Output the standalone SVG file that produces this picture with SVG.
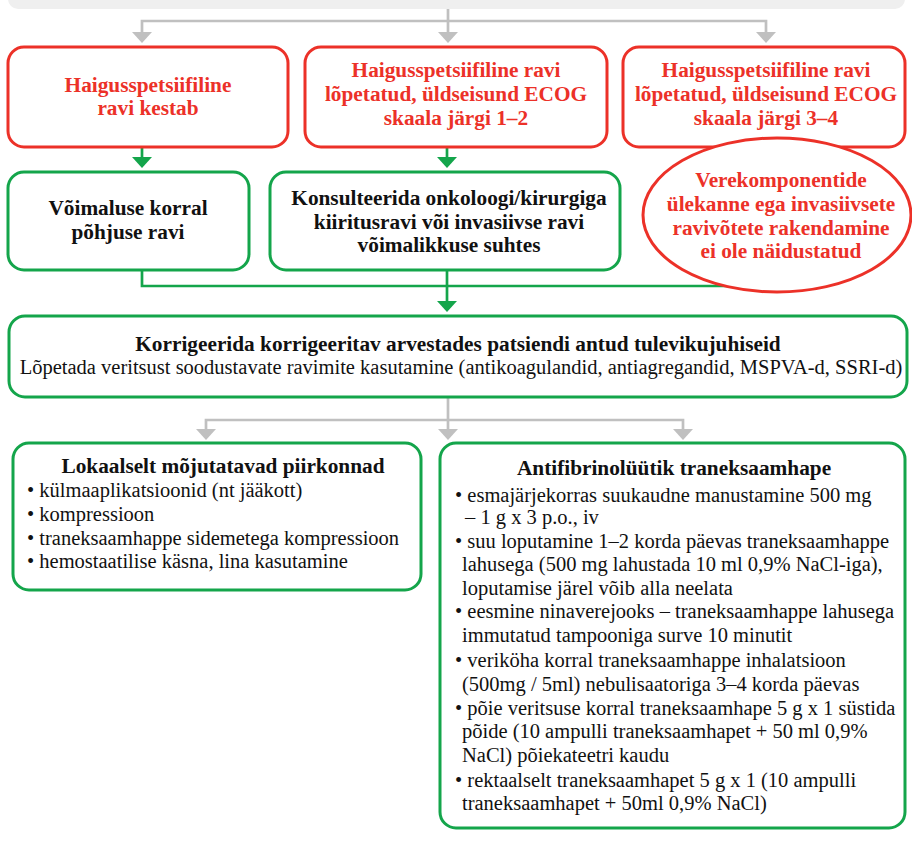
<svg xmlns="http://www.w3.org/2000/svg" width="912" height="847" viewBox="0 0 912 847">
<style>
  .red { fill: #ffffff; stroke: #ec3128; stroke-width: 3; }
  .grn { fill: #ffffff; stroke: #14a54b; stroke-width: 3; }
  .gline { fill: none; stroke: #c0c0c0; stroke-width: 2.7; }
  .nline { fill: none; stroke: #14a54b; stroke-width: 2.7; }
  .rt { font-family: "Liberation Serif", "Times New Roman", serif; font-weight: bold; font-size: 21.3px; fill: #ec3128; text-anchor: middle; }
  .bt { font-family: "Liberation Serif", "Times New Roman", serif; font-weight: bold; font-size: 21.3px; fill: #111111; text-anchor: middle; }
  .nt { font-family: "Liberation Serif", "Times New Roman", serif; font-size: 20.5px; fill: #111111; }
</style>
<defs>
  <marker id="ag" markerUnits="userSpaceOnUse" markerWidth="12" markerHeight="22" viewBox="0 -11 12 22" refX="0" refY="0" orient="auto">
    <path d="M0,-10 L11,0 L0,10 Z" fill="#c0c0c0"/>
  </marker>
  <marker id="an" markerUnits="userSpaceOnUse" markerWidth="12" markerHeight="22" viewBox="0 -11 12 22" refX="0" refY="0" orient="auto">
    <path d="M0,-10 L11,0 L0,10 Z" fill="#14a54b"/>
  </marker>
</defs>

<g id="top-box">
  <rect x="8" y="-30" width="897" height="39" rx="10" fill="#efefef"/>
</g>

<g id="connectors">
  <path class="gline" d="M448,9 V32" marker-end="url(#ag)"/>
  <path class="gline" d="M448,21 H142 V32" marker-end="url(#ag)"/>
  <path class="gline" d="M448,21 H766 V32" marker-end="url(#ag)"/>
  <path class="nline" d="M142,147 V157" marker-end="url(#an)"/>
  <path class="nline" d="M447,147 V157" marker-end="url(#an)"/>
  <path class="nline" d="M142,270 V286 H766"/>
  <path class="nline" d="M447,270 V301" marker-end="url(#an)"/>
  <path class="gline" d="M448,397 V429" marker-end="url(#ag)"/>
  <path class="gline" d="M448,420 H206 V429" marker-end="url(#ag)"/>
  <path class="gline" d="M448,420 H683 V429" marker-end="url(#ag)"/>
</g>

<g id="red1">
  <rect class="red" x="8" y="47" width="280" height="100" rx="16"/>
  <text class="rt" x="148" y="92">Haigusspetsiifiline</text>
  <text class="rt" x="148" y="115">ravi kestab</text>
</g>
<g id="red2">
  <rect class="red" x="305" y="47" width="302" height="100" rx="16"/>
  <text class="rt" x="456" y="77">Haigusspetsiifiline ravi</text>
  <text class="rt" x="456" y="101">lõpetatud, üldseisund ECOG</text>
  <text class="rt" x="456" y="125">skaala järgi 1–2</text>
</g>
<g id="red3">
  <rect class="red" x="623" y="47" width="282" height="100" rx="16"/>
  <text class="rt" x="766" y="77">Haigusspetsiifiline ravi</text>
  <text class="rt" x="766" y="101">lõpetatud, üldseisund ECOG</text>
  <text class="rt" x="766" y="125">skaala järgi 3–4</text>
</g>

<g id="green1">
  <rect class="grn" x="8" y="172" width="241" height="98" rx="16"/>
  <text class="bt" x="128" y="215">Võimaluse korral</text>
  <text class="bt" x="128" y="239">põhjuse ravi</text>
</g>
<g id="green2">
  <rect class="grn" x="270" y="172" width="350" height="98" rx="16"/>
  <text class="bt" x="449" y="205">Konsulteerida onkoloogi/kirurgiga</text>
  <text class="bt" x="449" y="229">kiiritusravi või invasiivse ravi</text>
  <text class="bt" x="449" y="252">võimalikkuse suhtes</text>
</g>
<g id="ellipse">
  <ellipse cx="777" cy="215" rx="134" ry="77" fill="#ffffff" stroke="#ec3128" stroke-width="3"/>
  <text class="rt" x="781" y="187">Verekomponentide</text>
  <text class="rt" x="781" y="211">ülekanne ega invasiivsete</text>
  <text class="rt" x="781" y="235">ravivõtete rakendamine</text>
  <text class="rt" x="781" y="258">ei ole näidustatud</text>
</g>

<g id="correct">
  <rect class="grn" x="9" y="316" width="898" height="81" rx="16"/>
  <text class="bt" x="458" y="351">Korrigeerida korrigeeritav arvestades patsiendi antud tulevikujuhiseid</text>
  <text class="nt" x="461" y="374" text-anchor="middle">Lõpetada veritsust soodustavate ravimite kasutamine (antikoagulandid, antiagregandid, MSPVA-d, SSRI-d)</text>
</g>

<g id="local">
  <rect class="grn" x="13" y="443" width="408" height="147" rx="16"/>
  <text class="bt" x="223" y="473">Lokaalselt mõjutatavad piirkonnad</text>
  <text class="nt" x="27" y="497">• külmaaplikatsioonid (nt jääkott)</text>
  <text class="nt" x="27" y="521">• kompressioon</text>
  <text class="nt" x="27" y="545">• traneksaamhappe sidemetega kompressioon</text>
  <text class="nt" x="27" y="568">• hemostaatilise käsna, lina kasutamine</text>
</g>

<g id="antifib">
  <rect class="grn" x="440" y="443" width="465" height="385" rx="16"/>
  <text class="bt" x="674" y="475">Antifibrinolüütik traneksaamhape</text>
  <text class="nt" x="455" y="502">• esmajärjekorras suukaudne manustamine 500 mg</text>
  <text class="nt" x="465" y="524">– 1 g x 3 p.o., iv</text>
  <text class="nt" x="455" y="548">• suu loputamine 1–2 korda päevas traneksaamhappe</text>
  <text class="nt" x="462" y="571">lahusega (500 mg lahustada 10 ml 0,9% NaCl-iga),</text>
  <text class="nt" x="462" y="595">loputamise järel võib alla neelata</text>
  <text class="nt" x="455" y="618">• eesmine ninaverejooks – traneksaamhappe lahusega</text>
  <text class="nt" x="462" y="642">immutatud tampooniga surve 10 minutit</text>
  <text class="nt" x="455" y="667">• veriköha korral traneksaamhappe inhalatsioon</text>
  <text class="nt" x="462" y="691">(500mg / 5ml) nebulisaatoriga 3–4 korda päevas</text>
  <text class="nt" x="455" y="715">• põie veritsuse korral traneksaamhape 5 g x 1 süstida</text>
  <text class="nt" x="462" y="738">põide (10 ampulli traneksaamhapet + 50 ml 0,9%</text>
  <text class="nt" x="462" y="762">NaCl) põiekateetri kaudu</text>
  <text class="nt" x="455" y="787">• rektaalselt traneksaamhapet 5 g x 1 (10 ampulli</text>
  <text class="nt" x="462" y="810">traneksaamhapet + 50ml 0,9% NaCl)</text>
</g>
</svg>
